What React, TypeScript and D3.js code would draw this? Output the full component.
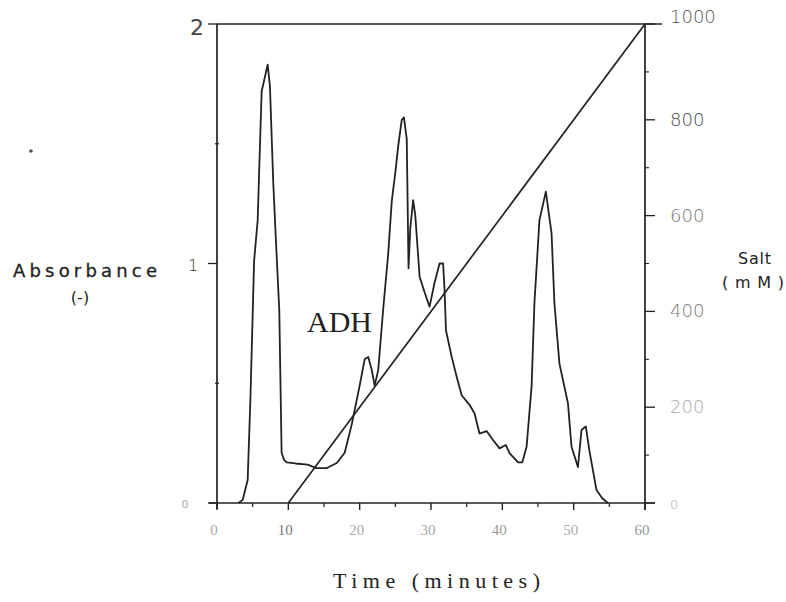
import React from "react";
import * as d3 from "d3";

const timeMin = [3.0, 3.6, 4.3, 4.7, 5.2, 5.7, 6.26, 6.5, 7.1, 7.42, 7.89, 8.3, 8.73, 9.06, 9.4, 9.76, 11.0, 12.7, 13.96, 15.4, 16.8, 17.9, 18.9, 20.0, 20.7, 21.2, 21.7, 22.1, 22.6, 23.3, 24.0, 24.5, 25.0, 25.4, 25.9, 26.2, 26.6, 26.85, 27.1, 27.5, 27.8, 28.4, 29.1, 29.8, 30.5, 31.2, 31.7, 31.9, 32.1, 32.9, 33.6, 34.3, 35.4, 36.1, 36.8, 37.8, 38.7, 39.6, 40.5, 41.0, 42.2, 42.8, 43.4, 44.1, 44.5, 45.2, 46.1, 46.9, 47.3, 48.0, 49.2, 49.7, 50.6, 51.1, 51.7, 52.2, 53.2, 54.0, 54.8];
const absorbance = [0.0, 0.013, 0.096, 0.45, 1.01, 1.18, 1.72, 1.75, 1.83, 1.74, 1.335, 1.07, 0.806, 0.21, 0.18, 0.17, 0.165, 0.16, 0.146, 0.146, 0.167, 0.21, 0.33, 0.49, 0.6, 0.61, 0.555, 0.49, 0.555, 0.81, 1.04, 1.26, 1.38, 1.49, 1.6, 1.61, 1.52, 0.98, 1.15, 1.265, 1.2, 0.945, 0.88, 0.82, 0.92, 1.0, 1.0, 0.89, 0.72, 0.61, 0.527, 0.45, 0.41, 0.375, 0.29, 0.3, 0.263, 0.228, 0.242, 0.208, 0.17, 0.17, 0.235, 0.486, 0.835, 1.18, 1.3, 1.126, 0.835, 0.583, 0.416, 0.235, 0.15, 0.305, 0.32, 0.22, 0.054, 0.02, 0.0];

const saltTime = [10, 60];
const saltConc = [0, 1000];

const xTicks = [0, 10, 20, 30, 40, 50, 60];
const xMinorTicks = [5, 15, 25, 35, 45, 55];
const leftTicks = [0, 1, 2];
const leftMinorTicks = [0.5, 1.5];
const rightTicks = [0, 200, 400, 600, 800, 1000];
const rightMinorTicks = [100, 300, 500, 700, 900];

const rightLabelColors = ["#aaa", "#aaa", "#777", "#777", "#444", "#555"];
const xLabelColors = ["#aaa", "#777", "#aaa", "#aaa", "#999", "#aaa", "#999"];

export default function App() {
  const x = d3.scaleLinear().domain([0, 60]).range([217, 645]);
  const yA = d3.scaleLinear().domain([0, 2]).range([503, 24]);
  const yS = d3.scaleLinear().domain([0, 1000]).range([503, 24]);

  const absLine = d3
    .line<number>()
    .x((_, i) => x(timeMin[i]))
    .y((d) => yA(d));
  const saltLine = d3
    .line<number>()
    .x((_, i) => x(saltTime[i]))
    .y((d) => yS(d));

  const stroke = "#222";
  return (
    <svg width={786} height={602} style={{ position: "absolute", left: 0, top: 0, background: "#fff" }}>
      <rect x={0} y={0} width={786} height={602} fill="#fff" />
      {/* frame */}
      <line x1={x(0)} x2={x(0)} y1={yA(2)} y2={yA(0) + 6} stroke={stroke} strokeWidth={1.7} />
      <line x1={x(60)} x2={x(60)} y1={yA(2)} y2={yA(0) + 7} stroke={stroke} strokeWidth={1.7} />
      <line x1={x(0)} x2={x(60) + 17} y1={yA(2)} y2={yA(2)} stroke={stroke} strokeWidth={1.5} />
      <line x1={x(0) - 8} x2={x(60) + 10} y1={yA(0)} y2={yA(0)} stroke={stroke} strokeWidth={1.5} />

      {/* x ticks */}
      {xTicks.map((t) => (
        <line key={"xt" + t} x1={x(t)} x2={x(t)} y1={yA(0)} y2={yA(0) + 7} stroke={stroke} strokeWidth={1.4} />
      ))}
      {xMinorTicks.map((t) => (
        <line key={"xm" + t} x1={x(t)} x2={x(t)} y1={yA(0)} y2={yA(0) + 4} stroke={stroke} strokeWidth={1.2} />
      ))}
      {xTicks.map((t, i) => (
        <text key={"xl" + t} x={x(t) - 3} y={535} fontSize={15} fontFamily="Liberation Serif" fill={xLabelColors[i]} textAnchor="middle">
          {t}
        </text>
      ))}

      {/* left ticks */}
      {leftTicks.map((t) => (
        <line key={"lt" + t} x1={x(0) - 9} x2={x(0)} y1={yA(t)} y2={yA(t)} stroke={stroke} strokeWidth={1.3} />
      ))}
      {leftMinorTicks.map((t) => (
        <line key={"lm" + t} x1={x(0) - 2} x2={x(0) + 2} y1={yA(t)} y2={yA(t)} stroke={stroke} strokeWidth={1.2} />
      ))}
      <text x={197} y={35} fontSize={22} fontFamily="DejaVu Sans" fill="#444" textAnchor="middle">2</text>
      <text x={193} y={271} fontSize={16} fontFamily="DejaVu Sans" fill="#333" fontWeight={300} textAnchor="middle">1</text>
      <text x={185} y={508} fontSize={11} fontFamily="DejaVu Sans" fill="#aaa" textAnchor="middle">0</text>

      {/* right ticks */}
      {rightTicks.map((t) => (
        <line key={"rt" + t} x1={x(60)} x2={x(60) + 10} y1={yS(t)} y2={yS(t)} stroke={stroke} strokeWidth={1.3} />
      ))}
      {rightMinorTicks.map((t) => (
        <line key={"rm" + t} x1={x(60)} x2={x(60) + 4} y1={yS(t)} y2={yS(t)} stroke={stroke} strokeWidth={1.1} />
      ))}
      {rightTicks.map((t, i) => (
        <text key={"rl" + t} x={670} y={yS(t) + (t === 1000 ? -1 : 6)} fontSize={t === 0 ? 13 : 18} fontFamily="DejaVu Sans" fontWeight={300} fill={rightLabelColors[i]}>
          {t}
        </text>
      ))}

      {/* data */}
      <path d={saltLine(saltConc) || ""} fill="none" stroke={stroke} strokeWidth={1.7} />
      <path d={absLine(absorbance) || ""} fill="none" stroke={stroke} strokeWidth={1.8} strokeLinejoin="round" />

      {/* labels */}
      <text x={13} y={277} fontSize={18} fontFamily="DejaVu Sans" fill="#222" stroke="#222" strokeWidth={0.3} textLength={144} lengthAdjust="spacing">Absorbance</text>
      <text x={80} y={303} fontSize={16} fontFamily="DejaVu Sans" fill="#222" textAnchor="middle">(-)</text>
      <text x={738} y={264} fontSize={16} fontFamily="DejaVu Sans" fill="#222" textLength={33} lengthAdjust="spacing">Salt</text>
      <text x={722} y={288} fontSize={16} fontFamily="DejaVu Sans" fill="#222" textLength={62} lengthAdjust="spacing">(mM)</text>
      <text x={307} y={332} fontSize={29} fontFamily="Liberation Serif" fill="#222" textLength={65} lengthAdjust="spacingAndGlyphs">ADH</text>
      <text x={333} y={588} fontSize={22} fontFamily="Liberation Serif" fill="#222" textLength={207} lengthAdjust="spacing">Time  (minutes)</text>
      <circle cx={31} cy={151} r={1.8} fill="#555" />
    </svg>
  );
}
